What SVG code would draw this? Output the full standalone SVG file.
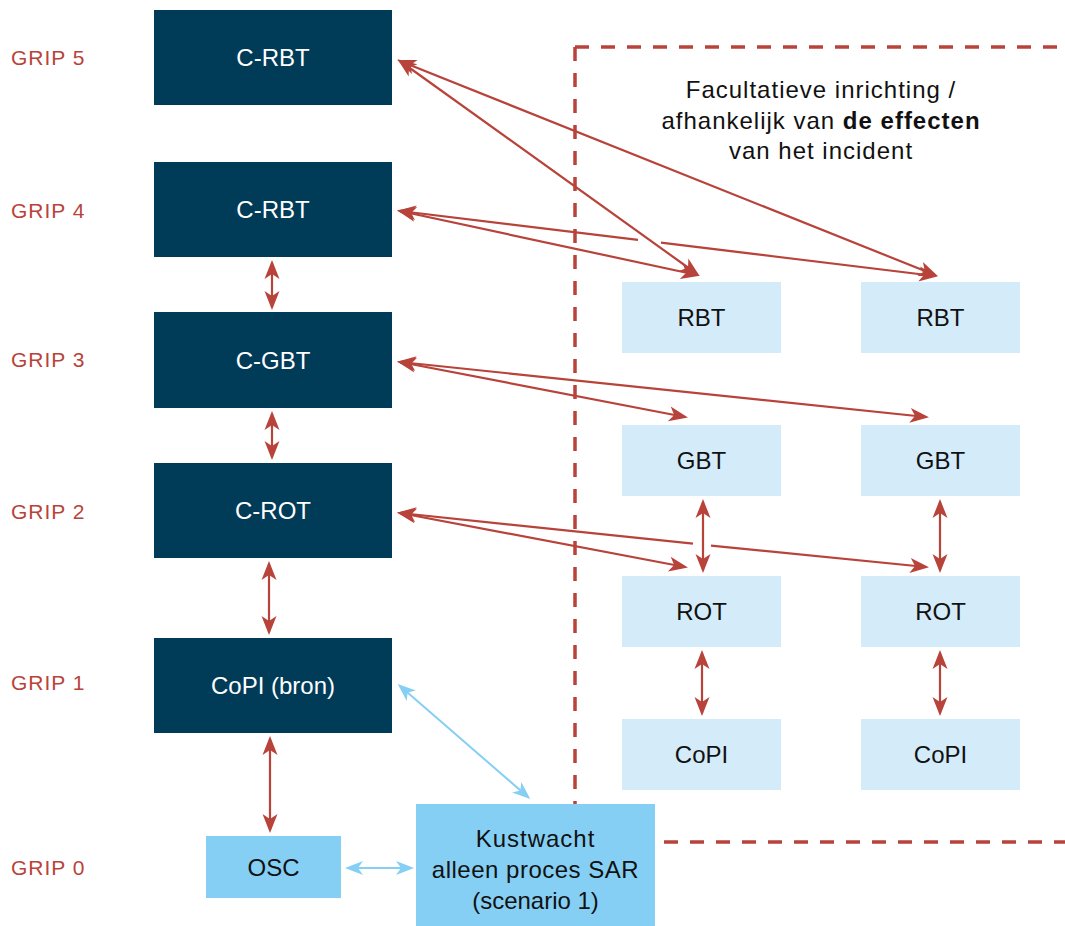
<svg xmlns="http://www.w3.org/2000/svg" width="1065" height="926" viewBox="0 0 1065 926">
<style>
  text { font-family: "Liberation Sans", Arial, sans-serif; }
  .grip { fill: #B8433A; font-size: 21px; letter-spacing: 1px; }
  .dark { fill: #003B58; }
  .light { fill: #D4EBFA; }
  .blue { fill: #85CFF5; }
  .wt { fill: #FFFFFF; font-size: 24px; text-anchor: middle; }
  .bt { fill: #111111; font-size: 24px; text-anchor: middle; }
  .note { fill: #111111; font-size: 24px; text-anchor: middle; letter-spacing: 1px; }
  .red { stroke: #B8433A; stroke-width: 2.2; fill: none; marker-start: url(#ar); marker-end: url(#ar); }
  .sky { stroke: #85CFF5; stroke-width: 2; fill: none; marker-start: url(#ab); marker-end: url(#ab); }
  .dash { stroke: #B8433A; stroke-width: 3.5; fill: none; stroke-dasharray: 14 12; }
</style>
<defs>
  <marker id="ar" viewBox="-22 -10 26 20" refX="-3" refY="0" markerWidth="26" markerHeight="20" markerUnits="userSpaceOnUse" orient="auto-start-reverse">
    <path d="M0,0 L-19,-7.5 L-14,0 L-19,7.5 Z" fill="#B8433A"/>
  </marker>
  <marker id="ab" viewBox="-22 -10 26 20" refX="-3" refY="0" markerWidth="26" markerHeight="20" markerUnits="userSpaceOnUse" orient="auto-start-reverse">
    <path d="M0,0 L-18,-7 L-13,0 L-18,7 Z" fill="#85CFF5"/>
  </marker>
</defs>
<rect width="1065" height="926" fill="#FFFFFF"/>

<g id="grip-labels">
  <text class="grip" x="11" y="65">GRIP 5</text>
  <text class="grip" x="11" y="218">GRIP 4</text>
  <text class="grip" x="11" y="367">GRIP 3</text>
  <text class="grip" x="11" y="519">GRIP 2</text>
  <text class="grip" x="11" y="690">GRIP 1</text>
  <text class="grip" x="11" y="875">GRIP 0</text>
</g>

<g id="facultative-zone">
  <path class="dash" d="M575,47 H1072 M575,47 V842 H1072"/>
  <text class="note" x="821" y="98">Facultatieve inrichting /</text>
  <text class="note" x="821" y="129">afhankelijk van <tspan font-weight="bold">de effecten</tspan></text>
  <text class="note" x="821" y="159">van het incident</text>
</g>

<g id="connectors">
  <path class="red" d="M400,61 L697,274"/>
  <path class="red" d="M400,61 L935,275"/>
  <path class="red" d="M400,211 L697,275"/>
  <path class="red" d="M400,211 L638,239.9 M661,242.7 L935,276"/>
  <path class="red" d="M400,362 L685,417"/>
  <path class="red" d="M400,362 L926,417"/>
  <path class="red" d="M400,513 L685,567"/>
  <path class="red" d="M400,513 L693,543.7 M711,545.6 L926,567"/>
  <path class="red" d="M272,263 L272,307"/>
  <path class="red" d="M272,414 L272,457"/>
  <path class="red" d="M269,564 L269,632"/>
  <path class="red" d="M270,739 L270,830"/>
  <path class="red" d="M703,502 L703,570"/>
  <path class="red" d="M940,502 L940,570"/>
  <path class="red" d="M702,653 L702,713"/>
  <path class="red" d="M940,653 L940,713"/>
  <path class="sky" d="M400,686 L528,797"/>
  <path class="sky" d="M348,868 L411,868"/>
</g>

<g id="c-rbt-5">
  <rect class="dark" x="154" y="10" width="238" height="95"/>
  <text class="wt" x="273" y="66">C-RBT</text>
</g>
<g id="c-rbt-4">
  <rect class="dark" x="154" y="162" width="238" height="95"/>
  <text class="wt" x="273" y="218">C-RBT</text>
</g>
<g id="c-gbt">
  <rect class="dark" x="154" y="312" width="238" height="96"/>
  <text class="wt" x="273" y="368.5">C-GBT</text>
</g>
<g id="c-rot">
  <rect class="dark" x="154" y="463" width="238" height="95"/>
  <text class="wt" x="273" y="519">C-ROT</text>
</g>
<g id="copi-bron">
  <rect class="dark" x="154" y="638" width="238" height="95"/>
  <text class="wt" x="273" y="694">CoPI (bron)</text>
</g>

<g id="rbt-1">
  <rect class="light" x="622" y="282" width="159" height="71"/>
  <text class="bt" x="701.5" y="326">RBT</text>
</g>
<g id="rbt-2">
  <rect class="light" x="861" y="282" width="159" height="71"/>
  <text class="bt" x="940.5" y="326">RBT</text>
</g>
<g id="gbt-1">
  <rect class="light" x="622" y="425" width="159" height="71"/>
  <text class="bt" x="701.5" y="469">GBT</text>
</g>
<g id="gbt-2">
  <rect class="light" x="861" y="425" width="159" height="71"/>
  <text class="bt" x="940.5" y="469">GBT</text>
</g>
<g id="rot-1">
  <rect class="light" x="622" y="576" width="159" height="71"/>
  <text class="bt" x="701.5" y="620">ROT</text>
</g>
<g id="rot-2">
  <rect class="light" x="861" y="576" width="159" height="71"/>
  <text class="bt" x="940.5" y="620">ROT</text>
</g>
<g id="copi-1">
  <rect class="light" x="622" y="719" width="159" height="71"/>
  <text class="bt" x="701.5" y="763">CoPI</text>
</g>
<g id="copi-2">
  <rect class="light" x="861" y="719" width="159" height="71"/>
  <text class="bt" x="940.5" y="763">CoPI</text>
</g>

<g id="osc">
  <rect class="blue" x="206" y="836" width="135" height="62"/>
  <text class="bt" x="273.5" y="876">OSC</text>
</g>
<g id="kustwacht">
  <rect class="blue" x="416" y="804" width="239" height="122"/>
  <text class="bt" x="535.5" y="847" letter-spacing="1">Kustwacht</text>
  <text class="bt" x="535.5" y="878" letter-spacing="0.5">alleen proces SAR</text>
  <text class="bt" x="535.5" y="909">(scenario 1)</text>
</g>
</svg>
